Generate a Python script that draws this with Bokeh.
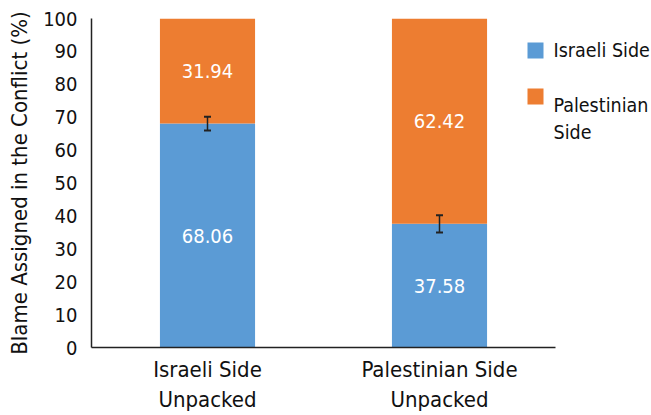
from bokeh.plotting import figure
from bokeh.models import ColumnDataSource, Whisker, LabelSet, TeeHead, FixedTicker, BoxAnnotation, Label
from bokeh.core.properties import value
from bokeh.embed import file_html
from bokeh.resources import INLINE

categories = ["Israeli Side\nUnpacked", "Palestinian Side\nUnpacked"]
israeli = [68.06, 37.58]
palestinian = [31.94, 62.42]
israeli_err = [2.1, 2.6]
series_names = ["Israeli Side", "Palestinian\nSide"]
colors = ["#5B9BD5", "#ED7D31"]
y_ticks = [0, 10, 20, 30, 40, 50, 60, 70, 80, 90, 100]

FONT = "DejaVu Sans Condensed"

src = ColumnDataSource(dict(
    x=categories,
    isr=israeli,
    pal=palestinian,
    top=[a + b for a, b in zip(israeli, palestinian)],
    isr_lbl=[f"{v:.2f}" for v in israeli],
    pal_lbl=[f"{v:.2f}" for v in palestinian],
    isr_mid=[v / 2 for v in israeli],
    pal_mid=[a + b / 2 for a, b in zip(israeli, palestinian)],
    lo=[v - e for v, e in zip(israeli, israeli_err)],
    hi=[v + e for v, e in zip(israeli, israeli_err)],
))

p = figure(x_range=categories, y_range=(0, 100), width=651, height=415,
           output_backend="svg", toolbar_location=None,
           min_border_left=91, min_border_right=0, min_border_top=18, min_border_bottom=68)
p.outline_line_color = None
p.grid.grid_line_color = None

r1 = p.vbar(x="x", bottom=0, top="isr", width=0.41, source=src, color=colors[0], line_color=None)
r2 = p.vbar(x="x", bottom="isr", top="top", width=0.41, source=src, color=colors[1], line_color=None)

w = Whisker(source=src, base="x", lower="lo", upper="hi", line_color="#222222", line_width=1.5,
            level="overlay",
            upper_head=TeeHead(size=7, line_color="#222222", line_width=2),
            lower_head=TeeHead(size=7, line_color="#222222", line_width=2))
p.add_layout(w)

for ycol, tcol in (("isr_mid", "isr_lbl"), ("pal_mid", "pal_lbl")):
    p.add_layout(LabelSet(x="x", y=ycol, text=tcol, source=src, text_color="white",
                          text_font=value(FONT), text_font_size=value("20px"),
                          text_align="center", text_baseline="middle"))

# legend swatches (inside the frame)
for c, (b, t) in zip(colors, [(289, 305), (243, 259)]):
    p.add_layout(BoxAnnotation(left=436, right=452, bottom=b, top=t,
                               left_units="screen", right_units="screen",
                               top_units="screen", bottom_units="screen",
                               fill_color=c, fill_alpha=1, line_color=None, line_alpha=0))

# legend labels (right panel, so that they are not clipped by the frame)
legend_text = series_names[0] + "\n \n" + series_names[1]
p.add_layout(Label(x=-2, y=309, x_units="screen", y_units="screen", text=legend_text,
                   text_font=FONT, text_font_size="19.5px", text_color="#111111",
                   text_baseline="top"), "right")

p.yaxis.ticker = FixedTicker(ticks=y_ticks)
p.yaxis.axis_label = "Blame Assigned in the Conflict (%)"
p.yaxis.axis_label_text_font = FONT
p.yaxis.axis_label_text_font_style = "normal"
p.yaxis.axis_label_text_font_size = "22px"
p.yaxis.axis_label_text_color = "#111111"
p.yaxis.axis_label_standoff = 8
for ax in (p.xaxis, p.yaxis):
    ax.axis_line_color = "#222222"
    ax.axis_line_width = 1.5
    ax.major_tick_line_color = None
    ax.minor_tick_line_color = None
    ax.major_label_text_font = FONT
    ax.major_label_text_color = "#111111"
p.yaxis.major_label_text_font_size = "20px"
p.xaxis.major_label_text_font_size = "22px"
p.yaxis.major_label_standoff = 8
p.xaxis.major_label_standoff = 3

open("out.html", "w").write(file_html(p, INLINE))
